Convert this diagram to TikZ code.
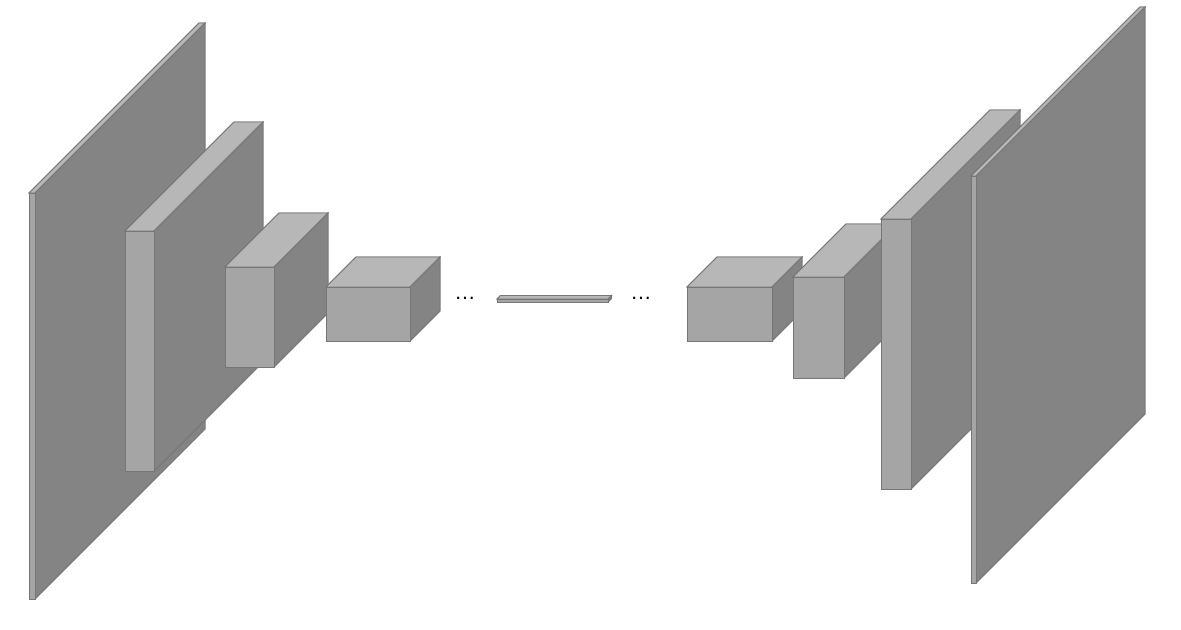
\documentclass[tikz,border=0pt]{standalone}
\usepackage{fontspec}
\newfontfamily\dotsfont{Liberation Sans}
\definecolor{frontc}{RGB}{165,165,165}
\definecolor{topc}{RGB}{183,183,183}
\definecolor{sidec}{RGB}{132,132,132}
\definecolor{edgec}{RGB}{118,118,118}
\tikzset{
  face/.style={draw=edgec, line width=0.6pt, line join=miter},
  frontface/.style={face, fill=frontc},
  topface/.style={face, fill=topc},
  sideface/.style={face, fill=sidec},
  dotslabel/.style={inner sep=0pt, font=\dotsfont\fontsize{16}{18}\selectfont}
}
% #1,#2 = front top-left; #3,#4 = front bottom-right; #5 = depth offset
\newcommand{\mycube}[5]{%
  \fill[topface] (#1,#2) -- ({#1+#5},{#2-#5}) -- ({#3+#5},{#2-#5}) -- (#3,#2) -- cycle;
  \fill[sideface] (#3,#2) -- ({#3+#5},{#2-#5}) -- ({#3+#5},{#4-#5}) -- (#3,#4) -- cycle;
  \draw[topface] (#1,#2) -- ({#1+#5},{#2-#5}) -- ({#3+#5},{#2-#5}) -- (#3,#2) -- cycle;
  \draw[sideface] (#3,#2) -- ({#3+#5},{#2-#5}) -- ({#3+#5},{#4-#5}) -- (#3,#4) -- cycle;
  \draw[frontface] (#1,#2) rectangle (#3,#4);
}
\begin{document}
\begin{tikzpicture}[x=0.75pt,y=-0.75pt]
\useasboundingbox (0,0) rectangle (1181,629);
% encoder
\mycube{29}{193}{35}{599}{170}
\mycube{125}{231}{154}{471}{109}
\mycube{225}{267}{274}{367}{54}
\mycube{326}{287}{410}{341}{30}
\node[dotslabel] (dotsA) at (465,298) {…};
% bottleneck
\mycube{497}{299}{608}{302}{3.5}
\node[dotslabel] (dotsB) at (641,298) {…};
% decoder
\mycube{687}{287}{772}{341}{30}
\mycube{793}{277}{844}{378}{53}
\mycube{881}{219}{911}{489}{109}
\mycube{971}{176}{976}{583}{169}
\end{tikzpicture}
\end{document}
